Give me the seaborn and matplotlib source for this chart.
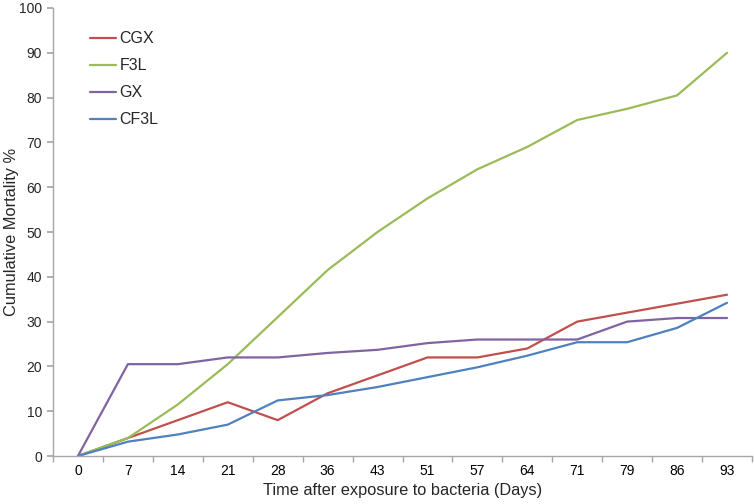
import matplotlib
matplotlib.use("Agg")
import matplotlib.pyplot as plt
import seaborn as sns
import pandas as pd
import numpy as np

days = ["0", "7", "14", "21", "28", "36", "43", "51", "57", "64", "71", "79", "86", "93"]
cgx = [0, 4, 8, 12, 8, 14, 18, 22, 22, 24, 30, 32, 34, 36]
f3l = [0, 4, 11.5, 20.5, 31, 41.5, 50, 57.5, 64, 69, 75, 77.5, 80.5, 90]
gx = [0, 20.5, 20.5, 22, 22, 23, 23.7, 25.2, 26, 26, 26, 30, 30.8, 30.8]
cf3l = [0, 3.2, 4.8, 7, 12.4, 13.6, 15.4, 17.6, 19.8, 22.4, 25.4, 25.4, 28.6, 34.2]

series = {"CGX": cgx, "F3L": f3l, "GX": gx, "CF3L": cf3l}
colors = {"CGX": "#C0504D", "F3L": "#9BBB59", "GX": "#8064A2", "CF3L": "#4F81BD"}

rows = []
for name, vals in series.items():
    for i, v in enumerate(vals):
        rows.append({"idx": i, "value": v, "group": name})
df = pd.DataFrame(rows)

sns.set_theme(style="white")
plt.rcParams["font.family"] = ["Liberation Sans", "DejaVu Sans"]

fig = plt.figure(figsize=(7.54, 5.04), dpi=100)
ax = fig.add_axes([53/754, 1-456/504, (752-53)/754, (456-8)/504])

sns.lineplot(data=df, x="idx", y="value", hue="group", palette=colors,
             hue_order=list(series.keys()), linewidth=1.6, ax=ax)

ax.set_xlim(-0.5, len(days) - 0.5)
ax.set_ylim(0, 100)
ax.set_xticks(range(len(days)))
ax.set_xticklabels(days)
ax.set_xticks(np.arange(-0.5, len(days), 1), minor=True)
ax.tick_params(axis="x", which="major", length=0, labelsize=10, pad=6, colors="#000000")
ax.tick_params(axis="x", which="minor", length=4, color="#A6A6A6", bottom=True, direction="out")
ax.set_yticks(range(0, 101, 10))
ax.tick_params(axis="y", which="major", length=4, color="#A6A6A6", left=True, direction="out", labelsize=10, pad=4)

for s in ["top", "right"]:
    ax.spines[s].set_visible(False)
for s in ["left", "bottom"]:
    ax.spines[s].set_color("#A6A6A6")
    ax.spines[s].set_linewidth(1)

ax.set_xlabel("Time after exposure to bacteria (Days)", fontsize=11.8, labelpad=3)
ax.set_ylabel("Cumulative Mortality %", fontsize=11.8)
ax.yaxis.set_label_coords(-0.049, 0.5)

leg = ax.legend(loc="upper left", bbox_to_anchor=(0.053, 0.948), frameon=False,
                fontsize=11.5, handlelength=1.6, handletextpad=0.25, labelspacing=0.75,
                borderpad=0, borderaxespad=0)

fig.savefig("out.png", dpi=100)
